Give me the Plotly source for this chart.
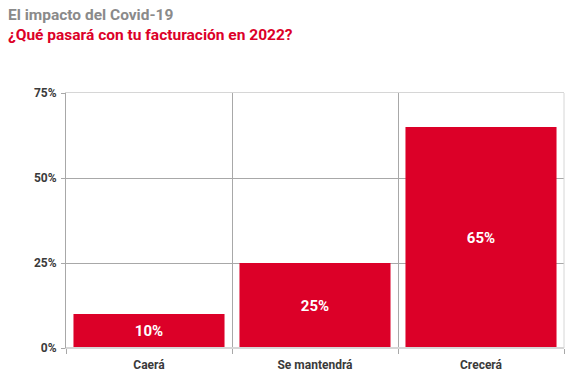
import plotly.graph_objects as go

categories = ["Caerá", "Se mantendrá", "Crecerá"]
values = [10, 25, 65]
labels = ["10%", "25%", "65%"]
y_ticks = [0, 25, 50, 75]
y_tick_text = ["0%", "25%", "50%", "75%"]

RED = "#dc0028"
FONT = "Roboto, 'Open Sans', sans-serif"

fig = go.Figure(go.Bar(
    x=categories, y=values, text=labels,
    textposition="inside", insidetextanchor="middle",
    textfont=dict(color="white", size=15, family=FONT, weight="bold"),
    marker=dict(color=RED, line=dict(width=0)),
    width=0.91, hoverinfo="skip",
))

L, R, T, B = 66, 14, 93, 38
W, H = 578, 386
plot_h = H - T - B
plot_w = W - L - R

fig.update_layout(
    width=W, height=H,
    margin=dict(l=L, r=R, t=T, b=B),
    paper_bgcolor="white", plot_bgcolor="white",
    showlegend=False,
    font=dict(family=FONT),
    annotations=[
        dict(text="<b>El impacto del Covid-19</b>", xref="paper", yref="paper",
             x=(6 - L) / plot_w, y=1 + (T - 4) / plot_h,
             xanchor="left", yanchor="top", showarrow=False,
             font=dict(size=15.5, color="#8a8a8a", family=FONT)),
        dict(text="<b>¿Qué pasará con tu facturación en 2022?</b>", xref="paper", yref="paper",
             x=(6 - L) / plot_w, y=1 + (T - 24) / plot_h,
             xanchor="left", yanchor="top", showarrow=False,
             font=dict(size=15.5, color=RED, family=FONT)),
    ],
)

fig.update_xaxes(
    type="category", tickson="boundaries",
    showgrid=True, gridcolor="#a8a8a8", gridwidth=1,
    ticks="outside", ticklen=5, tickcolor="#a8a8a8",
    ticklabelstandoff=6,
    showline=True, linecolor="#d6d6d6", mirror=True,
    tickfont=dict(size=12, color="#3a3a3a", family=FONT, weight="bold"),
    range=[-0.5, 2.5],
)
fig.update_yaxes(
    range=[0, 75], tickvals=y_ticks, ticktext=y_tick_text,
    showgrid=True, gridcolor="#a8a8a8", gridwidth=1,
    ticks="outside", ticklen=4, tickcolor="#a8a8a8",
    ticklabelstandoff=2,
    showline=True, linecolor="#a8a8a8",
    zeroline=False,
    tickfont=dict(size=12, color="#3a3a3a", family=FONT, weight="bold"),
)
fig.add_shape(type="line", xref="paper", yref="paper", x0=1, x1=1, y0=0, y1=1,
              line=dict(color="#d6d6d6", width=1))
fig.add_shape(type="line", xref="paper", yref="paper", x0=0, x1=1, y0=0, y1=0,
              line=dict(color="#d6d6d6", width=2))

fig.write_html("out.html", config={"displayModeBar": False, "staticPlot": True},
               post_script="document.body.style.margin='0';")
